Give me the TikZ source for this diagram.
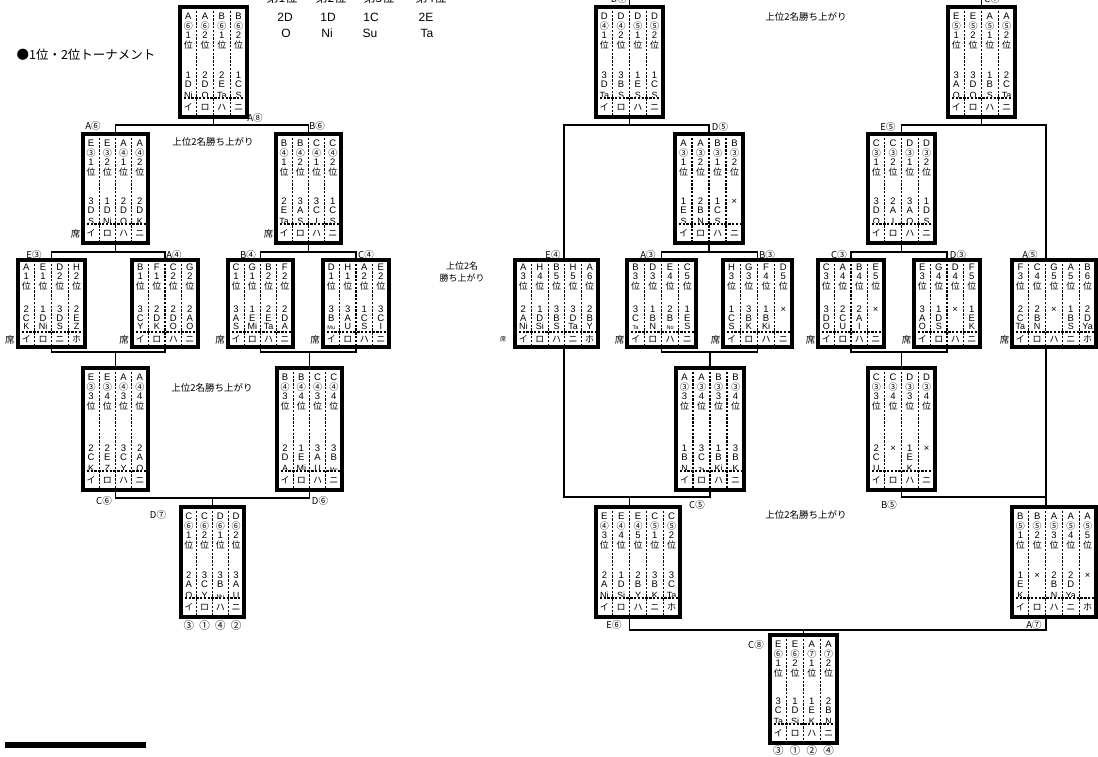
\documentclass[tikz,border=0pt]{standalone}
\usepackage{fontspec}
\setmainfont{Liberation Sans}
\newfontfamily\jp{Noto Sans CJK JP}
\tikzset{
  frame/.style={draw, line width=3.2pt, inner sep=0pt, outer sep=0pt},
  sep/.style={line width=1.3pt, dash pattern=on 2.4pt off 1.4pt},
  tx/.style={inner sep=0pt, text height=6.8pt, text depth=0pt, font=\fontsize{9.5}{9.5}\selectfont},
  cj/.style={inner sep=0pt, text height=7.4pt, text depth=0.5pt, font=\jp\fontsize{9}{9}\selectfont},
  nm/.style={inner sep=0pt, text height=6.6pt, text depth=0pt, font=\fontsize{9}{9}\selectfont},
  lbl/.style={inner sep=0pt, font=\jp\fontsize{9.5}{9.5}\selectfont},
  seat/.style={inner sep=0pt, font=\jp\fontsize{9.5}{9.5}\selectfont},
  note/.style={inner sep=0pt, font=\jp\fontsize{9.5}{11}\selectfont},
  tab/.style={inner sep=0pt, font=\fontsize{12}{12}\selectfont},
  res/.style={inner sep=0pt, font=\jp\fontsize{10.5}{10.5}\selectfont},
  conn/.style={line width=1.8pt},
}
\newcommand\sm[1]{{\fontsize{5.5}{5.5}\selectfont #1}}
% box with 4 header rows (letter, circled, number, 位)
\newcommand\boxA[7]{%
  \pgfmathsetmacro\bw{#3-#2}\pgfmathsetmacro\bh{#5-#4}%
  \pgfmathsetmacro\bcx{(#2+#3)/2}\pgfmathsetmacro\bcy{(#4+#5)/2}%
  \pgfmathsetmacro\cw{(#3-#2)/#6}\pgfmathtruncatemacro\nn{#6-1}%
  \foreach \k in {1,...,\nn}{\draw[sep] ({#2+\k*\cw},#4) -- ({#2+\k*\cw},#5);}
  \draw[sep] (#2,#5-19) -- (#3,#5-19);
  \node[frame, minimum width=\bw pt, minimum height=\bh pt] (#1) at (\bcx,\bcy) {};
  \foreach \a/\b/\c/\d/\e/\f/\g [count=\i] in {#7}{%
    \pgfmathsetmacro\xx{#2+(\i-0.5)*\cw}
    \node[tx] (#1a\i) at (\xx,#4+9.5) {\a};
    \node[cj] (#1b\i) at (\xx,#4+19) {\b};
    \node[tx] (#1c\i) at (\xx,#4+28.5) {\c};
    \node[cj] (#1d\i) at (\xx,#4+38) {位};
    \node[tx] (#1e\i) at (\xx,#5-42) {\d};
    \node[tx] (#1f\i) at (\xx,#5-32.5) {\e};
    \begin{scope}\clip (#2,#4) rectangle (#3,#5-20.3);
      \node[nm] (#1g\i) at (\xx,#5-22) {\f};
    \end{scope}
    \node[cj] (#1h\i) at (\xx,#5-9.5) {\g};
  }%
}
% box with 3 header rows (letter, number, 位)
\newcommand\boxB[7]{%
  \pgfmathsetmacro\bw{#3-#2}\pgfmathsetmacro\bh{#5-#4}%
  \pgfmathsetmacro\bcx{(#2+#3)/2}\pgfmathsetmacro\bcy{(#4+#5)/2}%
  \pgfmathsetmacro\cw{(#3-#2)/#6}\pgfmathtruncatemacro\nn{#6-1}%
  \foreach \k in {1,...,\nn}{\draw[sep] ({#2+\k*\cw},#4) -- ({#2+\k*\cw},#5);}
  \draw[sep] (#2,#5-15) -- (#3,#5-15);
  \node[frame, minimum width=\bw pt, minimum height=\bh pt] (#1) at (\bcx,\bcy) {};
  \foreach \a/\c/\d/\e/\f/\g [count=\i] in {#7}{%
    \pgfmathsetmacro\xx{#2+(\i-0.5)*\cw}
    \node[tx] (#1a\i) at (\xx,#4+7.5) {\a};
    \node[tx] (#1c\i) at (\xx,#4+16.5) {\c};
    \node[cj] (#1d\i) at (\xx,#4+26) {位};
    \node[tx] (#1e\i) at (\xx,#5-38) {\d};
    \node[tx] (#1f\i) at (\xx,#5-29) {\e};
    \begin{scope}\clip (#2,#4) rectangle (#3,#5-16.2);
      \node[nm] (#1g\i) at (\xx,#5-20.5) {\f};
    \end{scope}
    \node[cj] (#1h\i) at (\xx,#5-7.5) {\g};
  }%
}
\begin{document}
\begin{tikzpicture}[x=1pt,y=-1pt]
\fill[white] (0,0) rectangle (1098,756);
\useasboundingbox (0,0) rectangle (1098,756);

% ---------- titles and notes ----------
\node[inner sep=0pt, font=\jp\fontsize{12.5}{12.5}\selectfont] (title) at (86,55) {●1位・2位トーナメント};
\node[tab, font=\jp\fontsize{12}{12}\selectfont] (h1) at (282,-2) {第1位};
\node[tab, font=\jp\fontsize{12}{12}\selectfont] (h2) at (331,-2) {第2位};
\node[tab, font=\jp\fontsize{12}{12}\selectfont] (h3) at (379,-2) {第3位};
\node[tab, font=\jp\fontsize{12}{12}\selectfont] (h4) at (431,-2) {第4位};
\node[tab] (p1) at (285,17) {2D};
\node[tab] (p2) at (328,17) {1D};
\node[tab] (p3) at (371,17) {1C};
\node[tab] (p4) at (426,17) {2E};
\node[tab] (q1) at (286,33) {O};
\node[tab] (q2) at (327,33) {Ni};
\node[tab] (q3) at (370,33) {Su};
\node[tab] (q4) at (427,33) {Ta};
\node[note] (n1) at (213,142) {上位2名勝ち上がり};
\node[note] (n2) at (212,388) {上位2名勝ち上がり};
\node[note] (n3) at (806,17) {上位2名勝ち上がり};
\node[note] (n4) at (806,515) {上位2名勝ち上がり};
\node[note, align=center, font=\jp\fontsize{9}{11.5}\selectfont] (n5) at (462,272) {上位2名\\勝ち上がり};
\fill (5,742) rectangle (146,748);

% ---------- left tournament ----------
\boxA{A8}{180}{247}{7}{117}{4}{A/⑥/1/1/D/Ni/イ, A/⑥/2/2/D/O/ロ, B/⑥/1/2/E/Ta/ハ, B/⑥/2/1/C/S/ニ}
\boxA{A6}{83}{148}{134}{243}{4}{E/③/1/3/D/S/イ, E/③/2/1/D/Ni/ロ, A/④/1/2/D/O/ハ, A/④/2/2/D/K/ニ}
\boxA{B6}{276}{341}{134}{243}{4}{B/④/1/2/E/Ta/イ, B/④/2/3/A/S/ロ, C/④/1/3/C/I/ハ, C/④/2/1/C/S/ニ}
\boxB{E3}{18}{85}{260}{347}{4}{A/1/2/C/K/イ, E/1/1/D/Ni/ロ, D/2/3/D/S/ニ, H/2/2/E/Z/ホ}
\boxB{A4}{132}{198}{260}{347}{4}{B/1/3/C/Y/イ, F/1/2/D/K/ロ, C/2/2/D/O/ハ, G/2/2/A/O/ニ}
\boxB{B4}{228}{293}{260}{347}{4}{C/1/3/A/S/イ, G/1/1/E/Mi/ロ, B/2/2/E/Ta/ハ, F/2/2/D/A/ニ}
\boxB{C4}{323}{389}{260}{347}{4}{D/1/3/B/\sm{Mu}/イ, H/1/3/A/U/ロ, A/2/1/C/S/ハ, E/2/3/C/I/ニ}
\boxA{C6}{83}{148}{368}{490}{4}{E/③/3/2/C/K/イ, E/③/4/2/E/Z/ロ, A/④/3/3/C/Y/ハ, A/④/4/2/A/O/ニ}
\boxA{D6}{277}{342}{368}{490}{4}{B/④/3/2/D/A/イ, B/④/4/1/E/Mi/ロ, C/④/3/3/A/U/ハ, C/④/4/3/B/\sm{Mu}/ニ}
\boxA{D7L}{181}{244}{507}{617}{4}{C/⑥/1/2/A/O/イ, C/⑥/2/3/C/Y/ロ, D/⑥/1/3/B/\sm{Mu}/ハ, D/⑥/2/3/A/U/ニ}

\node[seat] (sA6) at (75.5,233.5) {席};
\node[seat] (sB6) at (268.5,233.5) {席};
\node[seat] (sE3) at (10,339.5) {席};
\node[seat] (sA4) at (124,339.5) {席};
\node[seat] (sB4) at (220,339.5) {席};
\node[seat] (sC4) at (315,339.5) {席};

\foreach \r/\x [count=\j] in {③/188.9, ①/204.6, ④/220.4, ②/236.1}
  \node[res] (resL\j) at (\x,625) {\r};

\coordinate (jA8) at (213.5,125);
\coordinate (jA6) at (115.5,252);
\coordinate (jB6) at (308.5,252);
\coordinate (jC6) at (115.5,352);
\coordinate (jD6) at (309.5,352);
\coordinate (jD7) at (212.5,498);
\draw[conn] (A8.south) -- (jA8);
\draw[conn] (A6.north) |- (jA8) -| (B6.north);
\draw[conn] (A6.south) -- (jA6);
\draw[conn] (E3.north) |- (jA6) -| (A4.north);
\draw[conn] (B6.south) -- (jB6);
\draw[conn] (B4.north) |- (jB6) -| (C4.north);
\draw[conn] (E3.south) |- (jC6) -| (A4.south);
\draw[conn] (jC6) -- (C6.north);
\draw[conn] (B4.south) |- (jD6) -| (C4.south);
\draw[conn] (jD6) -- (D6.north);
\draw[conn] (C6.south) |- (jD7) -| (D6.south);
\draw[conn] (jD7) -- (D7L.north);

\node[lbl] (lA8) at (255,118) {A⑧};
\node[lbl] (lA6) at (93,126) {A⑥};
\node[lbl] (lB6) at (317,126) {B⑥};
\node[lbl] (lE3) at (34,255) {E③};
\node[lbl] (lA4) at (174,255) {A④};
\node[lbl] (lB4) at (248,255) {B④};
\node[lbl] (lC4) at (366,255) {C④};
\node[lbl] (lC6) at (104,501) {C⑥};
\node[lbl] (lD6) at (320,501) {D⑥};
\node[lbl] (lD7) at (158,515) {D⑦};

% ---------- right tournament ----------
\boxA{D7R}{596}{663}{7}{117}{4}{D/④/1/3/D/Ta/イ, D/④/2/3/B/S/ロ, D/⑤/1/1/E/S/ハ, D/⑤/2/1/C/S/ニ}
\boxA{C7R}{948}{1015}{7}{117}{4}{E/⑤/1/3/A/O/イ, E/⑤/2/3/D/O/ロ, A/⑤/1/1/B/S/ハ, A/⑤/2/2/C/Ta/ニ}
\boxA{D5}{675}{743}{134}{243}{4}{A/③/1/1/E/S/イ, A/③/2/2/B/N/ロ, B/③/1/1/C/S/ハ, B/③/2/×/{}/{}/ニ}
\boxA{E5}{868}{935}{134}{243}{4}{C/③/1/3/D/O/イ, C/③/2/2/A/I/ロ, D/③/1/3/A/O/ハ, D/③/2/1/D/S/ニ}
\boxB{E4}{515}{598}{260}{347}{5}{A/3/2/A/Ni/イ, H/4/1/D/Si/ロ, B/5/3/B/S/ハ, H/5/3/D/Ta/ニ, A/6/2/B/Y/ホ}
\boxB{A3}{627}{696}{260}{347}{4}{B/3/3/C/\sm{Ta}/イ, D/3/1/B/N/ロ, E/4/2/B/\sm{No}/ハ, C/5/1/E/S/ニ}
\boxB{B3}{723}{792}{260}{347}{4}{H/3/1/C/S/イ, G/3/3/B/K/ロ, F/4/1/B/Ki/ハ, D/5/×/{}/{}/ニ}
\boxB{C3}{818}{884}{260}{347}{4}{C/3/3/D/O/イ, A/4/2/C/U/ロ, B/4/2/A/I/ハ, E/5/×/{}/{}/ニ}
\boxB{D3}{914}{980}{260}{347}{4}{E/3/3/A/O/イ, G/4/1/D/S/ロ, D/4/×/{}/{}/ハ, F/5/1/E/K/ニ}
\boxB{A5}{1012}{1096}{260}{347}{5}{F/3/2/C/Ta/イ, C/4/2/B/N/ロ, G/5/×/{}/{}/ハ, A/5/1/B/S/ニ, B/6/2/D/Ya/ホ}
\boxA{C5}{676}{744}{368}{490}{4}{A/③/3/1/B/N/イ, A/③/4/3/C/\sm{Ta}/ロ, B/③/3/1/B/Ki/ハ, B/③/4/3/B/K/ニ}
\boxA{B5}{868}{935}{368}{490}{4}{C/③/3/2/C/U/イ, C/③/4/×/{}/{}/ロ, D/③/3/1/E/K/ハ, D/③/4/×/{}/{}/ニ}
\boxA{E6}{596}{680}{507}{617}{5}{E/④/3/2/A/Ni/イ, E/④/4/1/D/Si/ロ, E/④/5/2/B/Y/ハ, C/⑤/1/3/B/K/ニ, C/⑤/2/3/C/Ta/ホ}
\boxA{A7}{1012}{1096}{507}{617}{5}{B/⑤/1/1/E/K/イ, B/⑤/2/×/{}/{}/ロ, A/⑤/3/2/B/N/ハ, A/⑤/4/2/D/Ya/ニ, A/⑤/5/×/{}/{}/ホ}
\boxA{C8}{770}{837}{635}{743}{4}{E/⑥/1/3/C/Ta/イ, E/⑥/2/1/D/Si/ロ, A/⑦/1/1/E/K/ハ, A/⑦/2/2/B/N/ニ}

\node[seat, font=\jp\fontsize{6}{6}\selectfont] (sE4) at (503,339.5) {席};
\node[seat] (sA3) at (619.5,339.5) {席};
\node[seat] (sB3) at (715.5,339.5) {席};
\node[seat] (sC3) at (810.5,339.5) {席};
\node[seat] (sD3) at (906.5,339.5) {席};
\node[seat] (sA5) at (1004.5,339.5) {席};

\foreach \r/\x [count=\j] in {③/778.4, ①/795.1, ②/811.9, ④/828.6}
  \node[res] (resR\j) at (\x,750) {\r};

\coordinate (upD7) at (629.5,-6);
\coordinate (upC7) at (981.5,-6);
\coordinate (jD7R) at (629.5,125);
\coordinate (jC7R) at (981.5,125);
\coordinate (jD5) at (709,252);
\coordinate (jE5) at (901.5,252);
\coordinate (jC5) at (710,352);
\coordinate (jB5) at (901.5,352);
\coordinate (jE6) at (629.5,497);
\coordinate (jA7) at (1046,497);
\coordinate (jC8) at (803.5,630);
\draw[conn] (D7R.north) -- (upD7);
\draw[conn] (C7R.north) -- (upC7);
\draw[conn] (D7R.south) -- (jD7R);
\draw[conn] ([xshift=49pt]E4.north west) |- (jD7R) -| (D5.north);
\draw[conn] (C7R.south) -- (jC7R);
\draw[conn] (E5.north) |- (jC7R) -| ([xshift=34pt]A5.north west);
\draw[conn] (D5.south) -- (jD5);
\draw[conn] (A3.north) |- (jD5) -| (B3.north);
\draw[conn] (E5.south) -- (jE5);
\draw[conn] (C3.north) |- (jE5) -| (D3.north);
\draw[conn] (A3.south) |- (jC5) -| (B3.south);
\draw[conn] (jC5) -- (C5.north);
\draw[conn] (C3.south) |- (jB5) -| (D3.south);
\draw[conn] (jB5) -- (B5.north);
\draw[conn] ([xshift=49pt]E4.south west) |- (jE6);
\draw[conn] (jE6) -| (C5.south);
\draw[conn] (jE6) -- ([xshift=33.5pt]E6.north west);
\draw[conn] (B5.south) |- (jA7);
\draw[conn] ([xshift=34pt]A5.south west) -- (jA7) -- ([xshift=34pt]A7.north west);
\draw[conn] ([xshift=33.5pt]E6.south west) |- (jC8) -| ([xshift=34pt]A7.south west);
\draw[conn] (jC8) -- (C8.north);

\node[lbl] (rD7) at (619,-1) {D⑦};
\node[lbl] (rC7) at (992,-1) {C⑦};
\node[lbl] (rD5) at (720,127) {D⑤};
\node[lbl] (rE5) at (888,127) {E⑤};
\node[lbl] (rE4) at (553,255) {E④};
\node[lbl] (rA3) at (648,255) {A③};
\node[lbl] (rB3) at (767,255) {B③};
\node[lbl] (rC3) at (839,255) {C③};
\node[lbl] (rD3) at (958,255) {D③};
\node[lbl] (rA5) at (1030,255) {A⑤};
\node[lbl] (rC5) at (697,505) {C⑤};
\node[lbl] (rB5) at (889,505) {B⑤};
\node[lbl] (rE6) at (614,625) {E⑥};
\node[lbl] (rA7) at (1034,625) {A⑦};
\node[lbl] (rC8) at (756,645) {C⑧};
\end{tikzpicture}
\end{document}
